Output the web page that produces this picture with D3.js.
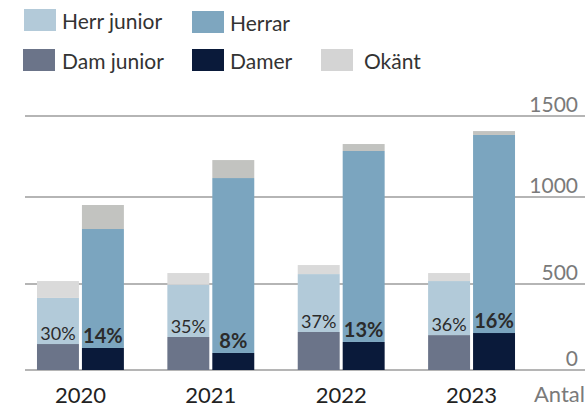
<!DOCTYPE html>
<html>
<head>
<meta charset="utf-8">
<script src="https://cdn.jsdelivr.net/npm/d3@7"></script>
<style>
  body { margin: 0; background: #fff; }
  svg { display: block; font-family: Lato, "Noto Sans", sans-serif; }
</style>
</head>
<body>
<svg width="585" height="410"></svg>
<script>
// data
var years = ['2020', '2021', '2022', '2023'];
var damJunior = [151, 192, 221, 203];
var herrJunior = [268, 304, 336, 314];
var okantJunior = [98, 67, 52, 46];
var damer = [128, 99, 163, 215];
var herrar = [688, 1018, 1121, 1168];
var okantSenior = [138, 111, 43, 24];
var juniorPct = ['30%', '35%', '37%', '36%'];
var seniorPct = ['14%', '8%', '13%', '16%'];
var ticks = [0, 500, 1000, 1500];

var svg = d3.select('svg');

var x = d3.scaleBand()
    .domain(years)
    .range([15.25, 536.75])
    .paddingInner(1 / 3)
    .paddingOuter(1 / 6);

var xSub = d3.scaleBand()
    .domain(['junior', 'senior'])
    .range([0, x.bandwidth()])
    .paddingInner(3 / 45);

// the original axis is not quite even, so follow its gridlines
var y = d3.scaleLinear()
    .domain([0, 500, 1000, 1500])
    .range([370, 284, 197, 116]);

// gridlines
svg.selectAll('.grid')
    .data(ticks)
    .enter()
    .append('line')
    .attr('class', 'grid')
    .attr('x1', 25)
    .attr('x2', 585)
    .attr('y1', function(d){ return y(d); })
    .attr('y2', function(d){ return y(d); })
    .attr('stroke', '#9d9d9d')
    .attr('stroke-width', 1.6);

svg.selectAll('.tick')
    .data(ticks)
    .enter()
    .append('text')
    .attr('class', 'tick')
    .attr('x', 578)
    .attr('y', function(d){ return y(d) - 4; })
    .attr('text-anchor', 'end')
    .attr('font-size', 21)
    .attr('fill', '#7a7a7a')
    .text(function(d){ return d; });

// build stacked rows
var juniorRows = years.map(function(yr, i){
    return {year: yr, dam: damJunior[i], herr: herrJunior[i], okant: okantJunior[i]};
});
var seniorRows = years.map(function(yr, i){
    return {year: yr, dam: damer[i], herr: herrar[i], okant: okantSenior[i]};
});

var stack = d3.stack().keys(['dam', 'herr', 'okant']);

var juniorColors = {dam: '#6b7489', herr: '#b2cad9', okant: '#dadada'};
var seniorColors = {dam: '#0a1a3a', herr: '#7ba5bf', okant: '#c2c3c0'};

function drawBars(rows, group, colors){
    var layers = stack(rows);
    svg.append('g')
        .selectAll('g')
        .data(layers)
        .enter()
        .append('g')
        .attr('fill', function(d){ return colors[d.key]; })
        .selectAll('rect')
        .data(function(d){ return d; })
        .enter()
        .append('rect')
        .attr('x', function(d){ return x(d.data.year) + xSub(group); })
        .attr('width', xSub.bandwidth())
        .attr('y', function(d){ return y(d[1]); })
        .attr('height', function(d){ return y(d[0]) - y(d[1]); });
}

drawBars(juniorRows, 'junior', juniorColors);
drawBars(seniorRows, 'senior', seniorColors);

// percent labels
svg.selectAll('.jpct')
    .data(years)
    .enter()
    .append('text')
    .attr('class', 'jpct')
    .attr('x', function(d){ return x(d) + xSub('junior') + xSub.bandwidth() / 2; })
    .attr('y', function(d, i){ return y(damJunior[i]) - 4; })
    .attr('text-anchor', 'middle')
    .attr('font-size', 18)
    .attr('fill', '#2b2b2b')
    .text(function(d, i){ return juniorPct[i]; });

svg.selectAll('.spct')
    .data(years)
    .enter()
    .append('text')
    .attr('class', 'spct')
    .attr('x', function(d){ return x(d) + xSub('senior') + xSub.bandwidth() / 2; })
    .attr('y', function(d, i){ return y(damer[i]) - 5; })
    .attr('text-anchor', 'middle')
    .attr('font-size', 20)
    .attr('font-weight', 'bold')
    .attr('fill', '#2b2b2b')
    .text(function(d, i){ return seniorPct[i]; });

// year labels
svg.selectAll('.year')
    .data(years)
    .enter()
    .append('text')
    .attr('class', 'year')
    .attr('x', function(d){ return x(d) + x.bandwidth() / 2; })
    .attr('y', 403)
    .attr('text-anchor', 'middle')
    .attr('font-size', 22)
    .attr('fill', '#222')
    .text(function(d){ return d; });

svg.append('text')
    .attr('x', 585)
    .attr('y', 402)
    .attr('text-anchor', 'end')
    .attr('font-size', 22)
    .attr('fill', '#7a7a7a')
    .text('Antal');

// legend
var legend = [
    {label: 'Herr junior', color: '#b3cad9', x: 24, y: 9, tx: 62},
    {label: 'Herrar', color: '#7ea6bf', x: 192, y: 11, tx: 230},
    {label: 'Dam junior', color: '#6b7489', x: 23, y: 49, tx: 62},
    {label: 'Damer', color: '#0a1a3a', x: 192, y: 49, tx: 230},
    {label: 'Okänt', color: '#d4d4d4', x: 321, y: 49, tx: 364}
];

var lg = svg.selectAll('.legend')
    .data(legend)
    .enter()
    .append('g')
    .attr('class', 'legend');

lg.append('rect')
    .attr('x', function(d){ return d.x; })
    .attr('y', function(d){ return d.y; })
    .attr('width', 32)
    .attr('height', 22)
    .attr('fill', function(d){ return d.color; });

lg.append('text')
    .attr('x', function(d){ return d.tx; })
    .attr('y', function(d){ return d.y + 20; })
    .attr('font-size', 21)
    .attr('fill', '#333')
    .text(function(d){ return d.label; });
</script>
</body>
</html>
